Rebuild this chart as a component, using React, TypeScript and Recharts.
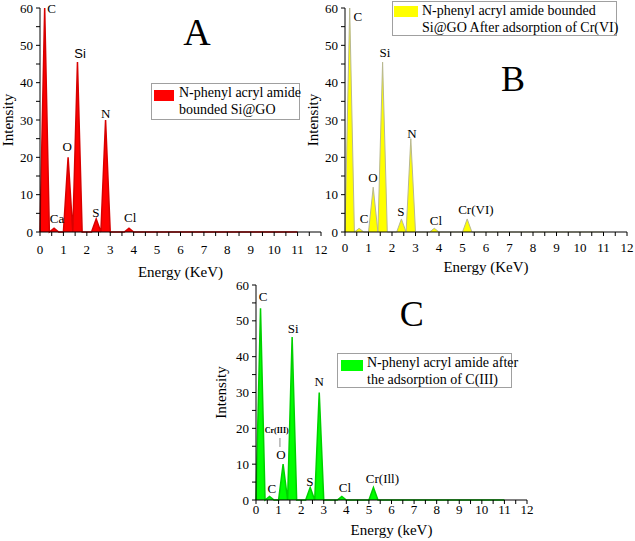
import React from 'react';
import { AreaChart, Area, XAxis, YAxis, ReferenceDot, ReferenceLine } from 'recharts';

const serif = '"Liberation Serif", "Times New Roman", Times, serif';
const sans = '"Liberation Sans", Arial, sans-serif';

// spectrum vertices (energy keV / intensity)
const energyA = [0, 0.2, 0.4, 0.6, 0.8, 1.0, 1.2, 1.4, 1.6, 1.8, 2.2, 2.4, 2.6, 2.8, 3.0, 3.6, 3.8, 4.0, 11];
const intensityA = [0, 60, 0, 1, 0, 0, 20, 0, 45.5, 0, 0, 3.5, 0, 30, 0, 0, 1, 0, 0];

const energyBC = [0, 0.2, 0.4, 0.6, 0.8, 1.0, 1.2, 1.4, 1.6, 1.8, 2.2, 2.4, 2.6, 2.8, 3.0, 3.6, 3.8, 4.0, 5.0, 5.2, 5.4, 11];
const intensityB = [0, 60, 0, 1, 0, 0, 12, 0, 45.5, 0, 0, 3.5, 0, 25, 0, 0, 1, 0, 0, 3.5, 0, 0];
const intensityC = [0, 53.5, 0, 1, 0, 0, 10, 0, 45.5, 0, 0, 3.5, 0, 30, 0, 0, 1, 0, 0, 3.5, 0, 0];

const xTicks = [0, 0.5, 1, 1.5, 2, 2.5, 3, 3.5, 4, 4.5, 5, 5.5, 6, 6.5, 7, 7.5, 8, 8.5, 9, 9.5, 10, 10.5, 11, 11.5, 12];
const yTicks = [0, 5, 10, 15, 20, 25, 30, 35, 40, 45, 50, 55, 60];

const legendA = ['N-phenyl acryl amide', 'bounded Si@GO'];
const legendB = ['N-phenyl acryl amide bounded', 'Si@GO After adsorption of Cr(VI)'];
const legendC = ['N-phenyl acryl amide after', 'the adsorption of C(III)'];

type Note = { text: string; x: number; y: number; size?: number; font?: string; bold?: boolean };

const notesA: Note[] = [
  { text: 'C', x: 0.5, y: 60 },
  { text: 'Si', x: 1.71, y: 47.7, font: sans },
  { text: 'O', x: 1.16, y: 23 },
  { text: 'N', x: 2.81, y: 31.8 },
  { text: 'Ca', x: 0.73, y: 3.7 },
  { text: 'S', x: 2.39, y: 5.3 },
  { text: 'Cl', x: 3.85, y: 4 },
  { text: 'A', x: 6.7, y: 53.6, size: 38 },
];

const notesB: Note[] = [
  { text: 'C', x: 0.55, y: 57.8 },
  { text: 'Si', x: 1.7, y: 48 },
  { text: 'O', x: 1.19, y: 14.7 },
  { text: 'N', x: 2.85, y: 26.5 },
  { text: 'C', x: 0.81, y: 3.7 },
  { text: 'S', x: 2.38, y: 5.4 },
  { text: 'Cl', x: 3.87, y: 3.2 },
  { text: 'Cr(VI)', x: 5.57, y: 5.9 },
  { text: 'B', x: 7.15, y: 41, size: 36 },
];

const notesC: Note[] = [
  { text: 'C', x: 0.31, y: 56.7 },
  { text: 'Si', x: 1.65, y: 48 },
  { text: 'N', x: 2.8, y: 33 },
  { text: 'O', x: 1.1, y: 12.6 },
  { text: 'Cr(III)', x: 0.92, y: 19.5, size: 8, bold: true },
  { text: 'C', x: 0.7, y: 3.3 },
  { text: 'S', x: 2.39, y: 5.3 },
  { text: 'Cl', x: 3.94, y: 3.6 },
  { text: 'Cr(Ill)', x: 5.6, y: 5.9 },
  { text: 'C', x: 6.9, y: 52, size: 36 },
];

const toRows = (es: number[], vs: number[]) => es.map((e, i) => ({ e, v: vs[i] }));

type Box = { left: number; top: number; width: number; height: number; sw: number; swLeft: number; swTop: number; textLeft: number };

type PanelProps = {
  left: number;
  top: number;
  width: number;
  height: number;
  margin: { top: number; right: number; bottom: number; left: number };
  xAxisHeight: number;
  tickGap: number;
  rows: { e: number; v: number }[];
  fill: string;
  stroke: string;
  strokeWidth: number;
  legend: string[];
  legendBox: Box;
  notes: Note[];
  xLabel: string;
  xLabelOffset: number;
  yLabelX: number;
  children?: React.ReactNode;
};

const XTick = (t: any) => {
  const v = t.payload.value;
  if (!Number.isInteger(v)) return <g />;
  return (
    <text x={t.x} y={t.y} dy="0.71em" textAnchor="middle" fontSize={13} fill="#000" style={{ fontFamily: serif }}>
      {v}
    </text>
  );
};

const YTick = (t: any) => {
  const v = t.payload.value;
  if (v % 10 !== 0) return <g />;
  return (
    <text x={t.x} y={t.y} dy="0.355em" textAnchor="end" fontSize={13} fill="#000" style={{ fontFamily: serif }}>
      {v}
    </text>
  );
};

function LegendBox({ box, fill, lines }: { box: Box; fill: string; lines: string[] }) {
  return (
    <div
      style={{
        position: 'absolute',
        left: box.left,
        top: box.top,
        width: box.width,
        height: box.height,
        border: '1px solid #a0a0a0',
        boxSizing: 'border-box',
        background: '#fff',
        fontFamily: serif,
        fontSize: 14,
        lineHeight: '17px',
        color: '#000',
      }}
    >
      <div style={{ position: 'absolute', left: box.swLeft, top: box.swTop, width: box.sw, height: 11, background: fill }} />
      <div style={{ position: 'absolute', left: box.textLeft, top: 0, whiteSpace: 'nowrap' }}>
        {lines.map((t) => (
          <div key={t}>{t}</div>
        ))}
      </div>
    </div>
  );
}

function Panel(p: PanelProps) {
  const plotH = p.height - p.margin.top - p.xAxisHeight;
  return (
    <div style={{ position: 'absolute', left: p.left, top: p.top, width: p.width, height: p.height, fontFamily: serif }}>
      <AreaChart width={p.width} height={p.height} data={p.rows} margin={p.margin} style={{ fontFamily: serif }}>
        <XAxis
          type="number"
          dataKey="e"
          domain={[0, 12]}
          ticks={xTicks}
          interval={0}
          tickSize={4}
          tickMargin={p.tickGap}
          height={p.xAxisHeight}
          stroke="#000"
          tick={<XTick />}
          label={({ viewBox }: any) => (
            <text
              x={viewBox.x + viewBox.width / 2}
              y={viewBox.y + p.xLabelOffset}
              textAnchor="middle"
              dominantBaseline="central"
              fontSize={15}
              fill="#000"
              style={{ fontFamily: serif }}
            >
              {p.xLabel}
            </text>
          )}
        />
        <YAxis
          type="number"
          domain={[0, 60]}
          ticks={yTicks}
          interval={0}
          tickSize={4}
          tickMargin={3}
          width={40}
          stroke="#000"
          tick={<YTick />}
        />
        <Area
          type="linear"
          dataKey="v"
          name={p.legend.join(' ')}
          fill={p.fill}
          fillOpacity={1}
          stroke={p.stroke}
          strokeWidth={p.strokeWidth}
          dot={false}
          activeDot={false}
          isAnimationActive={false}
        />
        {p.children}
        {p.notes.map((n, i) => (
          <ReferenceDot
            key={i}
            x={n.x}
            y={n.y}
            r={0}
            ifOverflow="visible"
            shape={(s: any) => (
              <text
                x={s.cx}
                y={s.cy}
                textAnchor="middle"
                dominantBaseline="central"
                fontSize={n.size || 13}
                fontWeight={n.bold ? 'bold' : 'normal'}
                fill="#000"
                style={{ fontFamily: n.font || serif }}
              >
                {n.text}
              </text>
            )}
          />
        ))}
        <text
          x={p.yLabelX}
          y={p.margin.top + plotH / 2}
          transform={`rotate(-90 ${p.yLabelX} ${p.margin.top + plotH / 2})`}
          textAnchor="middle"
          dominantBaseline="central"
          fontSize={15}
          fill="#000"
          style={{ fontFamily: serif }}
        >
          Intensity
        </text>
      </AreaChart>
      <LegendBox box={p.legendBox} fill={p.fill} lines={p.legend} />
    </div>
  );
}

export default function App() {
  return (
    <div style={{ position: 'absolute', left: 0, top: 0, width: 635, height: 541, background: '#fff', overflow: 'hidden' }}>
      <Panel
        left={0}
        top={0}
        width={330}
        height={290}
        margin={{ top: 8, right: 9, bottom: 0, left: 0 }}
        xAxisHeight={58}
        tickGap={9}
        rows={toRows(energyA, intensityA)}
        fill="#ff0000"
        stroke="#d80000"
        strokeWidth={1.5}
        legend={legendA}
        legendBox={{ left: 151, top: 83, width: 149, height: 37, sw: 20, swLeft: 2, swTop: 6, textLeft: 27 }}
        notes={notesA}
        xLabel="Energy (KeV)"
        xLabelOffset={40}
        yLabelX={8}
      />
      <Panel
        left={300}
        top={0}
        width={335}
        height={282}
        margin={{ top: 8, right: 8, bottom: 0, left: 5 }}
        xAxisHeight={50}
        tickGap={7}
        rows={toRows(energyBC, intensityB)}
        fill="#ffff00"
        stroke="#b8b890"
        strokeWidth={1}
        legend={legendB}
        legendBox={{ left: 92, top: 1, width: 225, height: 35, sw: 24, swLeft: 1, swTop: 4, textLeft: 29 }}
        notes={notesB}
        xLabel="Energy (KeV)"
        xLabelOffset={35}
        yLabelX={13}
      />
      <Panel
        left={200}
        top={270}
        width={345}
        height={271}
        margin={{ top: 15, right: 18, bottom: 0, left: 16 }}
        xAxisHeight={41}
        tickGap={1}
        rows={toRows(energyBC, intensityC)}
        fill="#00ff00"
        stroke="#00d000"
        strokeWidth={1.5}
        legend={legendC}
        legendBox={{ left: 137, top: 83, width: 175, height: 35, sw: 22, swLeft: 3, swTop: 6, textLeft: 29 }}
        notes={notesC}
        xLabel="Energy (keV)"
        xLabelOffset={30}
        yLabelX={21}
      >
        <ReferenceLine
          segment={[
            { x: 1.06, y: 17.3 },
            { x: 1.06, y: 14.8 },
          ]}
          stroke="#888"
          strokeWidth={1}
        />
      </Panel>
    </div>
  );
}
